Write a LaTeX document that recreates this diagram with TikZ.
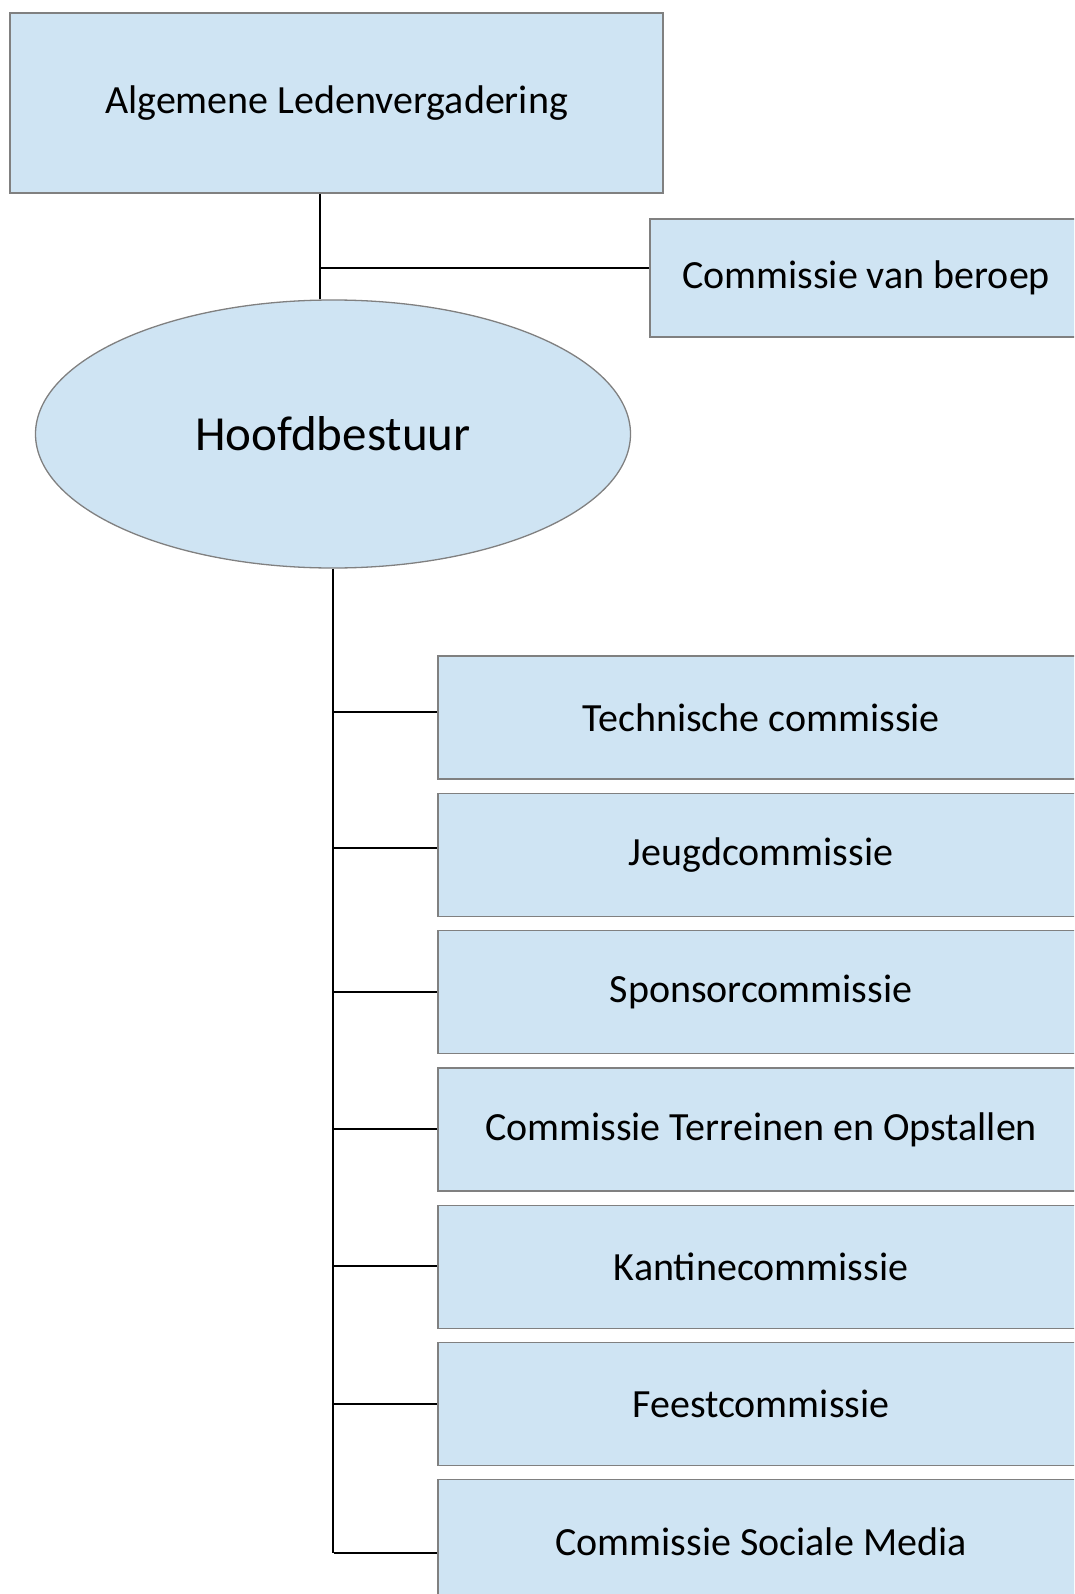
\documentclass[tikz,border=0pt]{standalone}
\usepackage{fontspec}
\setmainfont{Carlito}
\usetikzlibrary{shapes.geometric}
\definecolor{boxblue}{RGB}{207,228,243}
\definecolor{boxline}{RGB}{128,128,128}

\begin{document}
\begin{tikzpicture}[x=1pt,y=-1pt,
	box/.style={rectangle,draw=boxline,fill=boxblue,line width=1.3pt,inner sep=0pt,
	font=\fontsize{40}{48}\selectfont},
	line/.style={draw=black,line width=1.5pt}]
\useasboundingbox (0,0) rectangle (1074,1594);
\clip (0,0) rectangle (1074,1594);
\node[box, minimum width=653pt, minimum height=180pt] (alv) at (336.5,103) {Algemene Ledenvergadering};
\node[box, minimum width=432pt, minimum height=118pt] (beroep) at (866,278) {Commissie van beroep};
\node[ellipse, draw=boxline, fill=boxblue, line width=1.3pt, inner sep=0pt,
	minimum width=595pt, minimum height=268pt, font=\fontsize{49}{58}\selectfont] (hb) at (333,434) {Hoofdbestuur};
% commissies
\foreach \n/\t [count=\i from 0] in {tc/Technische commissie, jc/Jeugdcommissie, sc/Sponsorcommissie,
	to/Commissie Terreinen en Opstallen, kc/Kantinecommissie, fc/Feestcommissie, sm/Commissie Sociale Media}
	\node[box, minimum width=646pt, minimum height=123pt] (\n) at (761,717.5+137.3*\i) {\t};
\coordinate (j1) at (320,268);
\draw[line] (alv.south -| j1) -- (hb.north -| j1);
\draw[line] (j1) -- (beroep.west |- j1);
\coordinate (tr) at (334,1553);
\draw[line] (hb.south) -- (hb.south |- tr);
\foreach \n/\y in {tc/712, jc/848, sc/992, to/1129, kc/1266, fc/1404, sm/1553} {
	\coordinate (b\n) at (334,\y);
	\draw[line] (b\n) -- (\n.west |- b\n);
}
\end{tikzpicture}
\end{document}
